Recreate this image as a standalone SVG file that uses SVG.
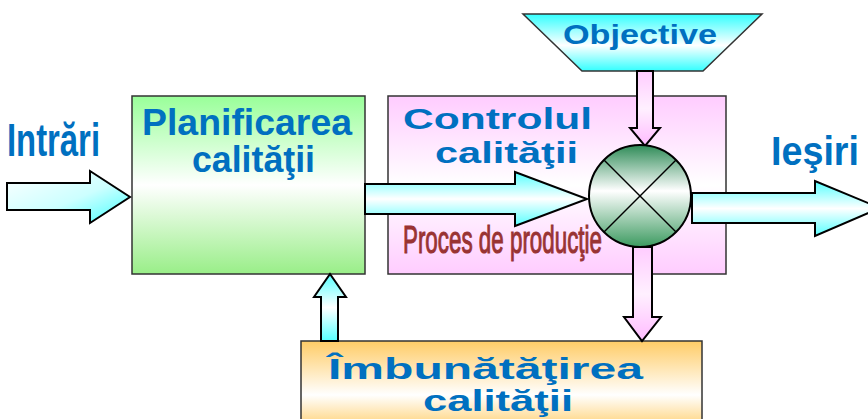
<svg xmlns="http://www.w3.org/2000/svg" width="868" height="419" viewBox="0 0 868 419">
<style>
.box{stroke:#333;stroke-width:1.5}
.arr{stroke:#000;stroke-width:2;stroke-linejoin:miter}
.t{font-family:"Liberation Sans",Arial,sans-serif;font-weight:bold;fill:#0070C0}
.pp{font-family:"Liberation Sans",Arial,sans-serif;fill:#993333;stroke:#993333;stroke-width:1.1}
</style>
<defs>
<linearGradient id="gGreen" x1="0" y1="0" x2="0" y2="1">
<stop offset="0" stop-color="#99FF99"/><stop offset="0.5" stop-color="#FFFFFF"/><stop offset="1" stop-color="#99EE88"/>
</linearGradient>
<linearGradient id="gPink" x1="0" y1="0" x2="0" y2="1">
<stop offset="0" stop-color="#FFCCFF"/><stop offset="0.5" stop-color="#FFFFFF"/><stop offset="1" stop-color="#FFCCFF"/>
</linearGradient>
<linearGradient id="gCyan" x1="0" y1="0" x2="0" y2="1">
<stop offset="0" stop-color="#55FFFF"/><stop offset="0.5" stop-color="#FFFFFF"/><stop offset="1" stop-color="#55FFFF"/>
</linearGradient>
<linearGradient id="gCyanA" x1="0" y1="0" x2="1" y2="1">
<stop offset="0" stop-color="#FFFFFF"/><stop offset="0.55" stop-color="#CCFFFF"/><stop offset="1" stop-color="#44FFFF"/>
</linearGradient>
<linearGradient id="gObj" x1="0" y1="0" x2="0" y2="1">
<stop offset="0" stop-color="#33FFFF"/><stop offset="0.55" stop-color="#FFFFFF"/><stop offset="1" stop-color="#33FFFF"/>
</linearGradient>
<linearGradient id="gOrange" x1="0" y1="0" x2="0" y2="1">
<stop offset="0" stop-color="#FFCC66"/><stop offset="0.6" stop-color="#FFFFFF"/><stop offset="1" stop-color="#FFCC66"/>
</linearGradient>
<linearGradient id="gPinkA" x1="0" y1="0" x2="0" y2="1">
<stop offset="0" stop-color="#FFCCFF"/><stop offset="0.5" stop-color="#FFF0FF"/><stop offset="1" stop-color="#FFBBFF"/>
</linearGradient>
<linearGradient id="gCircle" x1="0" y1="0" x2="0" y2="1">
<stop offset="0" stop-color="#2E8B57"/><stop offset="0.45" stop-color="#FFFFFF"/><stop offset="1" stop-color="#3C9A60"/>
</linearGradient>
</defs>

<g id="control">
<rect class="box" x="388" y="96" width="338" height="178" fill="url(#gPink)"/>
<text class="t" x="403" y="129" font-size="29" textLength="189" lengthAdjust="spacingAndGlyphs">Controlul</text>
<text class="t" x="435" y="163" font-size="29" textLength="143" lengthAdjust="spacingAndGlyphs">calităţii</text>
<text class="pp" x="403" y="253" font-size="39" textLength="199" lengthAdjust="spacingAndGlyphs">Proces de producţie</text>
</g>

<g id="planificarea">
<rect class="box" x="132" y="96" width="233" height="178" fill="url(#gGreen)"/>
<text class="t" x="142" y="135" font-size="37" textLength="210" lengthAdjust="spacingAndGlyphs">Planificarea</text>
<text class="t" x="192" y="172" font-size="37" textLength="123" lengthAdjust="spacingAndGlyphs">calităţii</text>
</g>

<g id="objective">
<polygon class="box" points="523,14 762,14 703,71 582,71" fill="url(#gObj)" stroke="#000" stroke-width="2"/>
<text class="t" x="563" y="44" font-size="28" textLength="154" lengthAdjust="spacingAndGlyphs">Objective</text>
</g>

<g id="imbunatatirea">
<rect class="box" x="301" y="341" width="401" height="90" fill="url(#gOrange)"/>
<text class="t" x="328" y="379" font-size="29" textLength="315" lengthAdjust="spacingAndGlyphs">Îmbunătăţirea</text>
<text class="t" x="423" y="411" font-size="29" textLength="150" lengthAdjust="spacingAndGlyphs">calităţii</text>
</g>

<g id="labels">
<text class="t" x="7" y="156" font-size="47" textLength="93" lengthAdjust="spacingAndGlyphs">Intrări</text>
<text class="t" x="771" y="165" font-size="41" textLength="88" lengthAdjust="spacingAndGlyphs">Ieşiri</text>
</g>

<g id="connectors">
<polygon class="arr" points="7,183 90,183 90,171 130,197 90,223 90,210 7,210" fill="url(#gCyanA)"/>
<polygon class="arr" points="365,184 515,184 515,172 587,199 515,226 515,214 365,214" fill="url(#gCyan)"/>
<polygon class="arr" points="692,193 815,193 815,181 880,208 815,236 815,223 692,223" fill="url(#gCyan)"/>
<polygon class="arr" points="637,71 653,71 653,128 660,128 645,146 630,128 637,128" fill="url(#gPinkA)"/>
<polygon class="arr" points="633,247 652,247 652,317 661,317 642,341 624,317 633,317" fill="url(#gPinkA)"/>
<polygon class="arr" points="321,341 338,341 338,297 346,297 330,274 314,297 321,297" fill="url(#gCyan)"/>
</g>

<g id="comparator">
<circle cx="640" cy="196" r="51" fill="url(#gCircle)" stroke="#000" stroke-width="2"/>
<line x1="604" y1="160" x2="676" y2="232" stroke="#000" stroke-width="1.5"/>
<line x1="676" y1="160" x2="604" y2="232" stroke="#000" stroke-width="1.5"/>
</g>
</svg>
